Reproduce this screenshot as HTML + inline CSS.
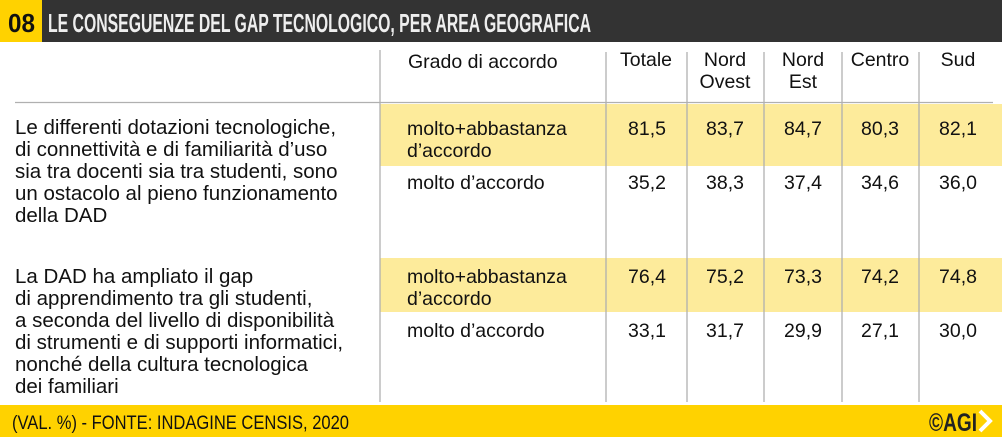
<!DOCTYPE html>
<html><head><meta charset="utf-8"><style>
html,body{margin:0;padding:0;background:#fff;}
svg{display:block;}
text{font-family:"Liberation Sans",sans-serif;fill:#111;}
</style></head><body>
<svg width="1002" height="437" viewBox="0 0 1002 437" xmlns="http://www.w3.org/2000/svg">
<rect x="0" y="0" width="1002" height="42" fill="#333"/>
<rect x="0" y="0" width="42" height="42" fill="#ffd200"/>
<text x="8" y="32" font-size="26" font-weight="bold" textLength="27" lengthAdjust="spacingAndGlyphs" style="fill:#111">08</text>
<text x="48" y="32" font-size="26" font-weight="bold" textLength="543" lengthAdjust="spacingAndGlyphs" style="fill:#eee">LE CONSEGUENZE DEL GAP TECNOLOGICO, PER AREA GEOGRAFICA</text>

<rect x="380" y="104" width="622" height="62" fill="#fdeb9b"/>
<rect x="380" y="258" width="622" height="54" fill="#fdeb9b"/>

<g stroke="#b0b0b0" stroke-width="1.3">
<line x1="15" y1="102.5" x2="993" y2="102.5"/>
<line x1="380" y1="50" x2="380" y2="402"/>
<line x1="606" y1="52" x2="606" y2="402"/>
<line x1="687" y1="52" x2="687" y2="402"/>
<line x1="764" y1="52" x2="764" y2="402"/>
<line x1="842" y1="52" x2="842" y2="402"/>
<line x1="919" y1="52" x2="919" y2="402"/>
</g>

<g font-size="19.5">
<text x="408" y="68">Grado di accordo</text>
<g text-anchor="middle">
<text x="646" y="66">Totale</text>
<text x="725" y="66">Nord</text><text x="725" y="88">Ovest</text>
<text x="803" y="66">Nord</text><text x="803" y="88">Est</text>
<text x="880" y="66">Centro</text>
<text x="958" y="66">Sud</text>
</g>

<g font-size="20.5">
<text x="15" y="134">Le differenti dotazioni tecnologiche,</text>
<text x="15" y="156">di connettività e di familiarità d’uso</text>
<text x="15" y="178">sia tra docenti sia tra studenti, sono</text>
<text x="15" y="200">un ostacolo al pieno funzionamento</text>
<text x="15" y="222">della DAD</text>
<text x="15" y="283">La DAD ha ampliato il gap</text>
<text x="15" y="305">di apprendimento tra gli studenti,</text>
<text x="15" y="327">a seconda del livello di disponibilità</text>
<text x="15" y="349">di strumenti e di supporti informatici,</text>
<text x="15" y="371">nonché della cultura tecnologica</text>
<text x="15" y="393">dei familiari</text>
</g>

<text x="407" y="135">molto+abbastanza</text>
<text x="407" y="157">d’accordo</text>
<text x="407" y="189">molto d’accordo</text>
<text x="407" y="283">molto+abbastanza</text>
<text x="407" y="305">d’accordo</text>
<text x="407" y="337">molto d’accordo</text>

<g text-anchor="middle">
<text x="647" y="135">81,5</text><text x="725" y="135">83,7</text><text x="803" y="135">84,7</text><text x="880" y="135">80,3</text><text x="958" y="135">82,1</text>
<text x="647" y="189">35,2</text><text x="725" y="189">38,3</text><text x="803" y="189">37,4</text><text x="880" y="189">34,6</text><text x="958" y="189">36,0</text>
<text x="647" y="283">76,4</text><text x="725" y="283">75,2</text><text x="803" y="283">73,3</text><text x="880" y="283">74,2</text><text x="958" y="283">74,8</text>
<text x="647" y="337">33,1</text><text x="725" y="337">31,7</text><text x="803" y="337">29,9</text><text x="880" y="337">27,1</text><text x="958" y="337">30,0</text>
</g>
</g>

<rect x="0" y="405" width="1002" height="32" fill="#ffd200"/>
<text x="12" y="429" font-size="19" textLength="337" lengthAdjust="spacingAndGlyphs">(VAL. %) - FONTE: INDAGINE CENSIS, 2020</text>
<text x="929" y="431" font-size="25" font-weight="bold" textLength="48" lengthAdjust="spacingAndGlyphs" style="fill:#222">©AGI</text>
<path d="M980 411 L990 421 L980 431" fill="none" stroke="#fff" stroke-width="4"/>
</svg>
</body></html>
